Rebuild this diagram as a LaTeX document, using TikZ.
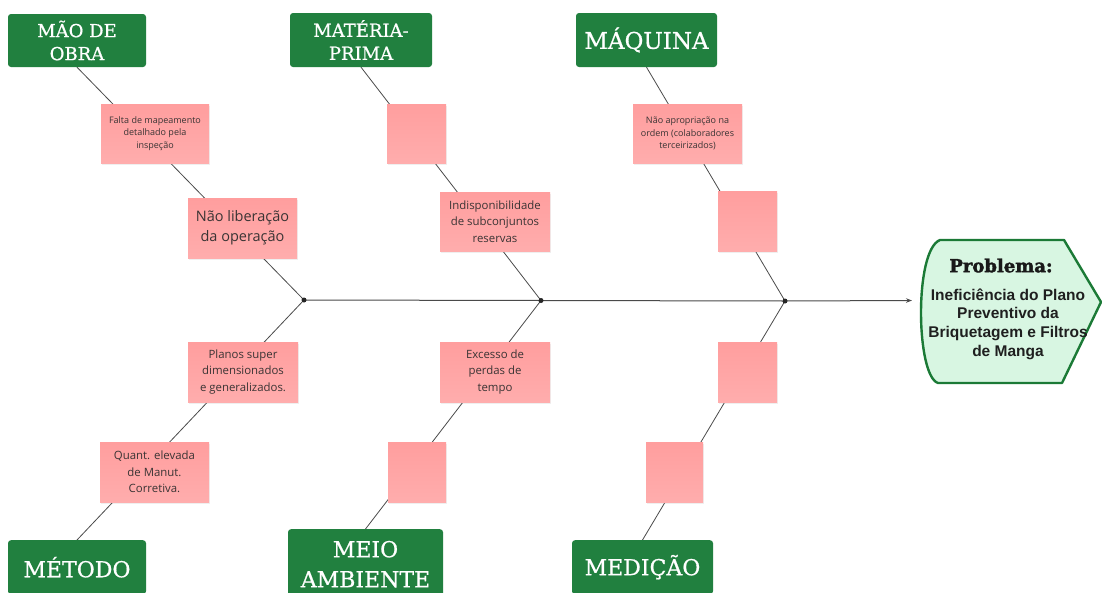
\documentclass[tikz,border=0pt]{standalone}
\usepackage{fontspec}
\setmainfont{Open Sans}
\newfontfamily\headfont{DejaVu Serif}[FakeBold=0.7]
\newfontfamily\heavyfont{DejaVu Serif}[UprightFont={* Bold}, FakeBold=2]
\newfontfamily\probfont{Liberation Sans}
\usetikzlibrary{arrows.meta,shadows,backgrounds}

\definecolor{hdgreen}{HTML}{21803F}
\definecolor{notetop}{HTML}{FF9E9E}
\definecolor{notebot}{HTML}{FFADAD}
\definecolor{notetext}{HTML}{3A3434}
\definecolor{bonegray}{HTML}{4A4A4A}
\definecolor{probfill}{HTML}{D8F6E2}
\definecolor{probline}{HTML}{1B7A36}

\tikzset{
  header/.style={fill=hdgreen, rounded corners=3pt, text=white, align=center,
                 inner sep=0pt},
  note/.style={top color=notetop, bottom color=notebot, text=notetext,
               align=center, inner sep=2pt,
               drop shadow={opacity=0.12, shadow xshift=1pt, shadow yshift=-1.5pt}},
  tiny/.style={font=\fontsize{9}{12.8}\selectfont},
  small/.style={font=\fontsize{11.4}{16.4}\selectfont},
  bone/.style={draw=bonegray, line width=0.8pt},
  spine/.style={draw=bonegray, line width=1pt, -{Stealth[length=6pt,width=4.5pt]}},
  joint/.style={circle, fill=black!85, inner sep=0pt, minimum size=5pt}
}

\begin{document}
\begin{tikzpicture}[x=1pt,y=-1pt]
\clip (0,0) rectangle (1102,592);

% category headers
\node[header, minimum width=138pt, minimum height=53pt,
      font=\headfont\fontsize{18}{23}\selectfont] (mao) at (77,40.5) {MÃO DE\\OBRA};
\node[header, minimum width=142pt, minimum height=54pt,
      font=\headfont\fontsize{18}{23}\selectfont] (mat) at (361,40) {MATÉRIA-\\PRIMA};
\node[header, minimum width=141pt, minimum height=54pt,
      font=\headfont\fontsize{23}{26}\selectfont] (maq) at (646.5,40) {MÁQUINA};
\node[header, anchor=north, minimum width=138pt, minimum height=54pt,
      font=\headfont\fontsize{22}{26}\selectfont] (met) at (77,540) {MÉTODO};
\node[header, anchor=north, minimum width=155pt, minimum height=70pt,
      font=\headfont\fontsize{22}{30}\selectfont] (meio) at (365.5,529) {MEIO\\AMBIENTE};
\node[header, anchor=north, minimum width=141pt, minimum height=54pt,
      font=\headfont\fontsize{22}{26}\selectfont] (med) at (642.5,540) {MEDIÇÃO};

% joints on the spine
\node[joint] (j1) at (304,300) {};
\node[joint] (j2) at (541,300.5) {};
\node[joint] (j3) at (785,301) {};
\coordinate (tip) at (912,300.5);

% cause notes
\node[note, tiny, minimum width=108pt, minimum height=59pt] (n1) at (155,133.5)
  {Falta de mapeamento\\detalhado pela\\inspeção};
\node[note, minimum width=109pt, minimum height=60pt,
      font=\fontsize{14.5}{20}\selectfont] (n2) at (242.5,228)
  {Não liberação\\da operação};
\node[note, minimum width=59pt, minimum height=59pt] (n3) at (416.5,133.5) {};
\node[note, small, minimum width=110pt, minimum height=59pt] (n4) at (495,221.5)
  {Indisponibilidade\\de subconjuntos\\reservas};
\node[note, tiny, minimum width=109pt, minimum height=59pt] (n5) at (687.5,133.5)
  {Não apropriação na\\ordem (colaboradores\\terceirizados)};
\node[note, minimum width=59pt, minimum height=60pt] (n6) at (747.5,221) {};
\node[note, small, minimum width=110pt, minimum height=60pt] (n7) at (243,372)
  {Planos super\\dimensionados\\e generalizados.};
\node[note, small, minimum width=110pt, minimum height=60pt] (n8) at (495,372)
  {Excesso de\\perdas de\\tempo};
\node[note, small, minimum width=109pt, minimum height=60pt] (n9) at (154.5,472)
  {Quant. elevada\\de Manut.\\Corretiva.};
\node[note, minimum width=58pt, minimum height=60pt] (n10) at (417,472) {};
\node[note, minimum width=59pt, minimum height=60pt] (n11) at (747.5,372) {};
\node[note, minimum width=57pt, minimum height=60pt] (n12) at (674.5,472) {};

% problem head
\draw[probline, fill=probfill, line width=2.4pt, line join=round]
  (940,240) -- (1064,240) -- (1101,302) -- (1062,383) -- (938,383)
  .. controls (916,376) and (914,250) .. (940,240) -- cycle;
\node[font=\heavyfont\fontsize{18}{20}\selectfont, text=black!90]
  (probtitle) at (1001,265.5) {Problema:};
\node[font=\probfont\bfseries\fontsize{15.5}{18.6}\selectfont, text=black!88,
      align=center] (probtext) at (1008,324)
  {Ineficiência do Plano\\Preventivo da\\Briquetagem e Filtros\\de Manga};

% page, bones and spine, behind the notes
\begin{scope}[on background layer]
  \fill[white] (0,0) rectangle (1102,592);
  \draw[bone] (mao.south) -- (j1.center);
  \draw[bone] (mat.south) -- (j2.center);
  \draw[bone] (maq.south) -- (j3.center);
  \draw[bone] (met.north) -- (j1.center);
  \draw[bone] (meio.north) -- (j2.center);
  \draw[bone] (med.north) -- (j3.center);
  \draw[spine] (j1.center) -- (j2.center) -- (j3.center) -- (tip);
\end{scope}
\end{tikzpicture}
\end{document}
